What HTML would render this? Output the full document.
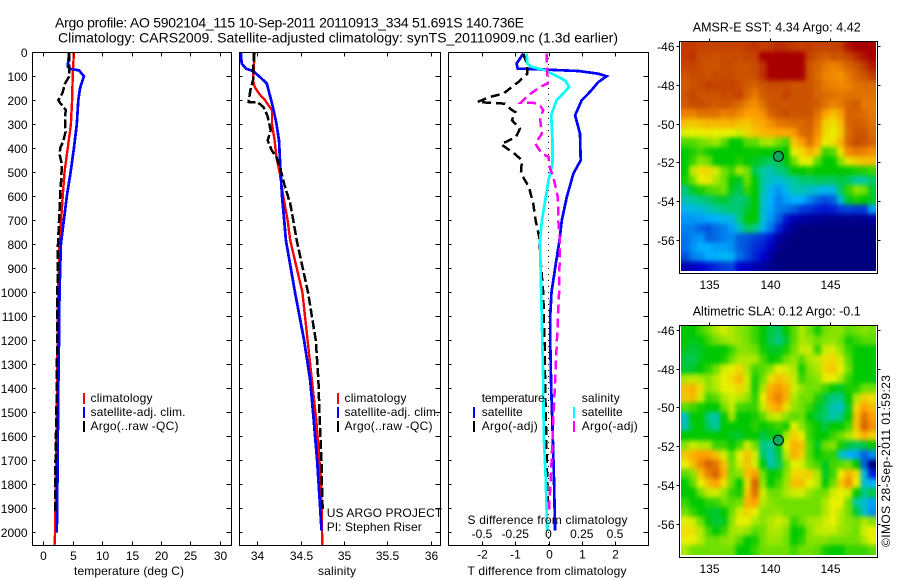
<!DOCTYPE html>
<html lang="en">
<head>
<meta charset="utf-8">
<title>Argo profile 5902104_115</title>
<style>
  html, body { margin: 0; padding: 0; background: #fff; }
  svg { display: block; }
  text { font-family: "Liberation Sans", sans-serif; font-size: 12px; fill: #000; }
  .ttl { font-size: 14px; }
  .map-ttl { font-size: 12.5px; }
</style>
</head>
<body>
<svg id="chart" xmlns="http://www.w3.org/2000/svg" width="900" height="580" viewBox="0 0 900 580">
  <defs>
    <clipPath id="sst-clip"><rect x="681" y="42" width="195" height="229"/></clipPath>
    <clipPath id="sla-clip"><rect x="681" y="326" width="195" height="229"/></clipPath>
    <filter id="soften" filterUnits="userSpaceOnUse" x="660" y="20" width="240" height="560" color-interpolation-filters="sRGB">
      <feGaussianBlur stdDeviation="2 2.4"/>
    </filter>
  </defs>
  <rect x="0" y="0" width="900" height="580" fill="#fff"/>
  <text class="ttl" x="55" y="27.5" textLength="469" lengthAdjust="spacing">Argo profile: AO 5902104_115 10-Sep-2011 20110913_334 51.691S 140.736E</text>
  <text class="ttl" x="58" y="42.5" textLength="560" lengthAdjust="spacing">Climatology: CARS2009. Satellite-adjusted climatology: synTS_20110909.nc (1.3d earlier)</text>
  <g clip-path="url(#sst-clip)"><g id="layer-sst" filter="url(#soften)"></g></g>
  <g clip-path="url(#sla-clip)"><g id="layer-sla" filter="url(#soften)"></g></g>
  <g id="layer-marks"></g>
  <g id="layer-axes"></g>

  <g>
    <rect x="83" y="393" width="2" height="11" fill="#ff0000"/>
    <text x="90.5" y="402" textLength="62">climatology</text>
    <rect x="83" y="407" width="2" height="11" fill="#0000ff"/>
    <text x="90.5" y="416" textLength="95">satellite-adj. clim.</text>
    <rect x="83" y="421" width="2" height="11" fill="#000"/>
    <text x="90.5" y="430" textLength="88">Argo(..raw -QC)</text>
  </g>
  <g>
    <rect x="337" y="393" width="2" height="11" fill="#ff0000"/>
    <text x="344.5" y="402" textLength="62">climatology</text>
    <rect x="337" y="407" width="2" height="11" fill="#0000ff"/>
    <text x="344.5" y="416" textLength="95">satellite-adj. clim.</text>
    <rect x="337" y="421" width="2" height="11" fill="#000"/>
    <text x="344.5" y="430" textLength="88">Argo(..raw -QC)</text>
  </g>
  <text x="326.7" y="517" textLength="115.5">US ARGO PROJECT</text>
  <text x="326.7" y="531" textLength="95">PI: Stephen Riser</text>
  <g>
    <text x="481.7" y="402" textLength="63">temperature</text>
    <rect x="473" y="407" width="2" height="11" fill="#0000ff"/>
    <text x="481.7" y="416" textLength="41">satellite</text>
    <rect x="473" y="421" width="2" height="11" fill="#000"/>
    <text x="481.7" y="430" textLength="56">Argo(-adj)</text>
    <text x="581.7" y="402" textLength="38">salinity</text>
    <rect x="573" y="407" width="2" height="11" fill="#00ffff"/>
    <text x="581.7" y="416" textLength="41">satellite</text>
    <rect x="573" y="421" width="2" height="11" fill="#ff00ff"/>
    <text x="581.7" y="430" textLength="56">Argo(-adj)</text>
  </g>

  <text x="74" y="575" textLength="110">temperature (deg C)</text>
  <text x="318" y="575" textLength="38">salinity</text>
  <text x="467.5" y="575" textLength="159">T difference from climatology</text>
  <text x="467.5" y="524" textLength="160">S difference from climatology</text>

  <text class="map-ttl" x="692.7" y="31.5" textLength="168">AMSR-E SST: 4.34  Argo: 4.42</text>
  <text class="map-ttl" x="692.7" y="315.5" textLength="168">Altimetric SLA: 0.12  Argo: -0.1</text>
  <text transform="translate(890,547) rotate(-90)" x="0" y="0" textLength="172">©IMOS 28-Sep-2011 01:59:23</text>
</svg>

<script>
// ---------- chart data ----------
const depthTicks = [0,100,200,300,400,500,600,700,800,900,1000,1100,1200,1300,1400,1500,1600,1700,1800,1900,2000];
const temperatureTicks = [0,5,10,15,20,25,30];
const salinityTicks = [34,34.5,35,35.5,36];
const salinityTickLabels = ['34','34.5','35','35.5','36'];
const tDiffTicks = [-2,-1,0,1,2];
const sDiffTicks = [-0.5,-0.25,0,0.25,0.5];
const sDiffTickLabels = ['-0.5','-0.25','0','0.25','0.5'];
const mapLonTicks = [135,140,145];
const mapLatTicks = [-46,-48,-50,-52,-54,-56];

const tempClimDepth = [0,100,200,300,400,500,600,800,1000,1400,2000,2054];
const tempClimValues = [5.2,5.0,4.9,4.7,4.15,3.6,3.3,2.75,2.5,2.35,2.0,1.9];
const tempSatDepth = [0,60,70,75,100,150,200,300,400,500,600,800,1000,1200,1400,1800,2000];
const tempSatValues = [4.4,4.15,4.7,6.07,6.9,6.25,5.95,5.7,5.2,4.65,4.0,3.0,2.75,2.67,2.55,2.4,2.3];
const tempArgoDepth = [0,70,100,130,170,200,215,240,300,330,370,400,430,460,500,550,600,800,1000,1400,1700,1920];
const tempArgoValues = [4.37,4.4,4.4,3.7,3.25,2.55,3.0,3.8,3.7,3.8,3.4,2.85,2.8,3.1,3.1,3.0,2.85,2.5,2.4,2.3,2.07,2.0];

const salClimDepth = [0,117,144,172,200,242,300,367,436,505,600,700,783,1000,1200,1367,1533,1783,2054];
const salClimValues = [33.97,33.95,33.97,34.02,34.09,34.17,34.17,34.2,34.22,34.26,34.3,34.35,34.38,34.52,34.58,34.63,34.68,34.735,34.75];
const salSatDepth = [0,47,68,78,103,130,186,228,297,367,436,505,600,700,783,1000,1200,1367,1533,1700,1867,1992];
const salSatValues = [33.81,33.82,33.87,33.95,34.03,34.11,34.15,34.18,34.22,34.25,34.26,34.27,34.285,34.31,34.33,34.435,34.54,34.61,34.65,34.69,34.72,34.74];
const salArgoDepth = [0,117,158,207,210,228,262,325,367,408,436,505,561,630,700,783,1000,1200,1367,1533,1700,1867,1908];
const salArgoValues = [33.96,33.95,33.92,33.9,34.01,34.07,34.115,34.155,34.12,34.165,34.22,34.28,34.32,34.38,34.415,34.455,34.585,34.675,34.705,34.72,34.74,34.75,34.755];

const tDiffSatDepth = [5,47,68,72,78,89,100,124,165,200,262,339,450,505,603,700,783,900,1000,1100,1200,1400,1533,1783,1992];
const tDiffSatValues = [-0.76,-0.96,-0.93,-0.1,0.9,1.5,1.75,1.5,1.25,1.0,0.8,0.95,0.97,0.75,0.55,0.4,0.33,0.2,0.09,0.05,0.05,0.08,0.115,0.165,0.2];
const tDiffArgoDepth = [5,54,89,124,172,186,207,214,235,249,283,318,353,383,425,450,505,561,630,700,769,900,1000,1200,1400,1600,1900];
const tDiffArgoValues = [-0.76,-0.64,-0.64,-0.91,-1.36,-1.76,-2.14,-1.31,-1.16,-1.0,-1.1,-0.86,-0.98,-1.43,-1.0,-0.8,-0.83,-0.59,-0.46,-0.39,-0.28,-0.22,-0.16,-0.12,-0.1,-0.07,-0.02];
const sDiffSatDepth = [5,47,61,75,96,117,144,172,200,262,367,464,533,603,700,783,1000,1367,1600,1783,1992];
const sDiffSatValues = [-0.164,-0.16,-0.126,-0.026,0.05,0.124,0.156,0.11,0.06,0.02,0.03,0.03,0,-0.02,-0.05,-0.064,-0.055,-0.04,-0.035,-0.02,-0.01];
const sDiffArgoDepth = [5,130,144,179,210,211,220,242,276,339,380,422,436,464,519,603,700,783,1000,1367,1533,1742,1908];
const sDiffArgoValues = [-0.014,-0.005,-0.064,-0.15,-0.21,-0.114,-0.064,-0.04,-0.064,-0.05,-0.1,-0.05,0,0,0.036,0.07,0.074,0.086,0.08,0.05,0.036,0.02,0.004];

const floatLon = 140.736;
const floatLat = -51.691;

const sstGrid = [
[9.3,9.3,9.2,9.2,9.2, 9.2,9.2,9.2,9.3,9.4, 9.2,9.3,9.5,9.4,9.3, 9.2,9.3,9.2,9.2,9.2, 9.3,9.8,10,10,10],
[9.3,9.4,9.1,9.1,9, 9.1,9.1,9.1,9.2,9.2, 10,10,10,10,10, 10,9.2,9,8.9,9, 9,9.2,9.5,9.8,10],
[9.2,9.2,9.1,9,9, 9.1,9.1,9,9,9.1, 9.4,10,10,10,10, 10,9,8.8,8.5,8.4, 8.5,8.8,9,9.3,9.7],
[9,9.1,9.1,9,9.1, 9.1,9.1,9,9,9.1, 9.4,10,10,10,10, 10,9,8.7,8.4,8.3, 8.2,8.5,8.8,9,9.3],
[8.9,9,9.1,9.3,9.2, 9.2,9.2,9.1,8.9,8.8, 9,9.1,9.1,9.1,9, 9,9,8.8,8.5,8.4, 8.3,8.4,8.6,8.7,8.7],
[9,9.2,9,9,9, 9.1,9.1,9.2,8.8,8.5, 8.9,9,9,9.2,9, 9,9,8.8,8.7,8.6, 8.5,8.6,8.6,8.6,8.6],
[8.9,9.1,9.1,9,8.9, 9,8.9,8.7,8.4,8.2, 8.6,9,9,9,9, 9,9,8.9,8.6,8.4, 8.5,8.8,8.9,8.5,8.5],
[8.4,8.4,8.6,8.6,8.6, 8.4,8.5,8.3,8,8, 8.2,8.8,9,9.1,9, 9,9,8.6,8,7.6, 8,8.8,8.8,8.7,8.5],
[7.6,7.5,7.6,7.7,7.7, 7.7,7.8,7.6,7.5,7.8, 7.9,8.2,8.5,8.6,8.7, 8.7,8.9,8.4,7.4,7.2, 7.6,8.8,8.9,8.8,8.6],
[6.9,7,7,7.1,7, 7,7,6.8,7.3,7.5, 7.7,7.8,7.9,7.9,8.1, 8.7,8.8,8.2,7.3,7, 7.5,8.7,9,9,8.7],
[5.7,5.7,6,6.2,6.4, 5.8,5,5,5.8,5.8, 6.4,6.5,6,5.6,7.5, 8,8.6,8,7,7.2, 7.8,8.8,9.1,9,8.8],
[5,5.3,5.6,5.2,5, 5,5,5,5,5.1, 5,5,5,5,7, 7.3,7.8,7.4,5.5,5.8, 7.2,8.3,8.5,8.4,8.2],
[5,5.5,6.2,6,5, 5,5,5.3,5,4.8, 4.6,4.4,4.4,5,6, 7,7,5.8,5,5, 6.2,7.2,7.4,7.6,7.6],
[5,6.7,7.2,7.3,6.8, 6,5.5,6.5,6,4.5, 4,3.8,4.2,4.4,5, 5,5.2,5,5,5, 5,5,5.2,5.3,5.5],
[5.2,6,7,7.1,6.5, 6,5,4.8,6,5, 4,3.6,3.4,3.8,4, 4.3,4.3,4.5,4.4,4.4, 4.6,4.4,4,4,4.4],
[4.2,4.8,5.2,5.6,5.8, 6,4.8,4.5,5.5,5, 3.9,3.2,2.7,3.2,3.8, 3.8,3.6,3.4,3.2,3.3, 4.4,5.5,6.2,6,4.7],
[3.8,4,4.2,4.3,4.6, 4.7,4.4,4.2,4.5,5, 3.7,3,2.4,2.8,3, 3,2.5,2,1.8,2, 3.5,4.8,5.2,5,4.8],
[3.2,3.3,3.4,3.7,4, 4.2,4.3,4.3,4.7,5, 3.6,2.9,2.4,2.2,2, 1.6,1.5,1.3,1.2,1.3, 1.6,1.7,1.6,1.6,2.8],
[2.7,2.7,2.8,2.9,3, 3.2,3.3,4.2,5,5, 3.5,2.7,2,1.2,0.7, 0.5,0.4,0.3,0.2,0.2, 0.2,0.2,0.2,0.2,0.4],
[2.4,2.4,2,1.9,2.2, 2.4,2.8,3.6,4.4,4.2, 3.2,2.3,1.4,0.6,0.2, 0,0,0,0,0, 0,0,0,0,0],
[2.2,2.5,2.7,2,2.1, 2.4,2.5,2,1.9,1.7, 1.5,1.2,0.5,0.1,0, 0,0,0,0,0, 0,0,0,0,0],
[2.2,2.6,3,3,2.8, 2.8,2.6,2,1.8,1.5, 1.3,0.8,0.2,0,0, 0,0,0,0,0, 0,0,0,0,0],
[1.8,2.4,2.6,3,3, 3.2,3,2.2,1.8,1.4, 1,0.4,0,0,0, 0,0,0,0,0, 0,0,0,0,0],
[0.5,0.8,1,1.2,1.4, 1.6,1.7,1,0.8,0.6, 0.4,0.2,0,0,0, 0,0,0,0,0, 0,0,0,0,0]
];

const slaGrid = [
[5,5,5.5,6,6.5, 6.8,6.5,6.2,6,5.5, 5,4.6,4.4,5,5.8, 6.5,6,5.2,6,6.2, 6.2,5.8,6,6.2,6],
[5,4.8,5,5.5,6, 6.3,6.5,6.3,6,5.6, 5,4.5,4.2,4.7,5.8, 6.5,6.3,6,6.2,6.3, 6,5.2,5.5,5.8,5.8],
[4.8,4.6,4.8,5,5, 5,5.5,6.2,6.2,6, 5.2,4.8,4.8,5.2,6, 6.7,6.7,5.5,6.8,6.8, 6.3,5.5,5,5,5],
[4.6,4.5,4.8,5,5, 5.2,6,6.5,6.5,6.5, 5.7,5,5.2,6,6.3, 5.8,6.5,6.7,7.2,7.3, 6.8,5.8,5,5,5],
[4.7,4.7,5,5.4,6, 6.8,7,7.3,6.5,5.6, 5.8,6.2,7,6.8,6.5, 5.2,6.2,6.5,7.3,7.5, 7,6,5,5,5],
[6.5,6.7,6.5,6.2,6.6, 7,7.3,7.7,6.8,5.2, 6,7.2,7.6,7.4,6.7, 5.5,6,6.2,7,7, 6.5,5.5,5,5,4.9],
[7.6,7.8,7.2,6.2,6.5, 7,7,7.3,6.7,5.2, 6.5,7.8,8.1,7.8,6.8, 6.3,6,6,5.5,5, 4.8,5.2,5.3,6,6],
[7.5,7.7,6.8,5.6,5.8, 6.5,6.8,6.6,6.3,5.4, 7,8,8.4,7.8,6.5, 6,6,5.3,4.6,4.2, 4.2,5,6.5,7.4,7.2],
[5.8,5.6,5.2,5,5, 6,6.7,5.6,5.5,5.5, 6.7,7.6,8,7.2,6.3, 6,5.5,4.8,4.4,3.8, 3.6,4.8,7.3,8,7.6],
[3.6,5,5,4.2,3.8, 5,6.4,5,5,5.2, 5.8,6.6,6.7,6.2,5.8, 6,5,4.6,4.3,3.9, 4.2,5,7.6,8.6,8],
[3.8,4.8,5,4.4,4, 5,5,5,5,5.4, 5,5.2,5.5,5.2,7, 6.2,5.5,5,4.6,5, 5,5.6,7.6,8.8,8.2],
[5,5,5,5,5, 5,4.8,4.7,5,5, 4.6,4.8,5,6.5,7.4, 7,5.5,5,5,5.5, 6,6.5,7.2,7.8,7.4],
[6.2,6.8,6.5,6.5,5.5, 5.5,5,5.6,6.8,6, 4.2,4,4.8,7,7.8, 7.6,5.8,4.8,6,6.2, 5.2,4.6,4.4,4.6,5],
[7.5,7.8,8,8,7.6, 6.8,5.8,7,7.6,6.8, 4.4,3.8,4.6,6.6,7.8, 7.4,5.8,5,5.4,5.4, 3.8,3,2.8,2,2.6],
[7,7.6,8.3,8.8,8.5, 7.6,6,6.8,7.6,6.8, 5,3.8,4.4,6,7, 6.8,6,5.6,4.8,5.6, 5.8,6,5,2,0],
[5.8,6.2,7.6,8.4,8.8, 7.8,6,6.2,7.6,8, 6,5,5.2,6.2,7.3, 7.3,7.4,6.5,4.8,5.5, 7,7.8,7.2,3.4,1.3],
[5,5.8,7,7.6,8, 7.2,6,5,7.2,8.8, 6.3,5,5.6,6.4,7.6, 7.6,7,6.6,5,6, 7.5,8.2,7,3.6,3],
[5,5,6,6.7,6.8, 6.3,5.5,5.2,7.5,8.6, 6.8,6,6,6.5,6.8, 6.8,6.3,6,6,6.8, 7,6.8,5,4.2,4.6],
[5.5,5,5,5.4,5.5, 6,5.8,6,7.8,8, 6.6,6.2,6,6,6, 6,6,6,6.5,7, 7,6,4,3.5,2.8],
[6,5.5,5,4.8,4.7, 5,6,6.8,7.4,7, 6.2,6.2,6.3,6,6, 6,6,6,6.5,7, 6.6,6,4.6,3.6,2.6],
[7,6.8,6,5,4.6, 4.8,6.2,7,7,6.5, 6.2,6.5,6.8,6.5,5.5, 6,6.4,6.5,6.8,7, 6.5,6.2,6,6.5,6.2],
[7.2,7.2,6.6,5.6,5, 5.5,6.4,6.5,6.3,5.8, 6,6.5,6.5,6.2,5, 5.2,6.2,6.6,6.7,6.7, 6.4,6.2,6,6.8,7],
[7,7,6.6,6,6, 6.2,6.3,5.8,5,5.2, 6,6.4,6.3,6,5, 5.4,6.2,6.2,6.2,6, 6,6,6,6.5,7],
[6.5,6,6,6,6, 6,6,5,5,5.5, 6,6,6,6,5.6, 6,6,5.8,5.2,5, 5,5.5,5.5,5.5,5.8]
];

// ---------- axis functions ----------
const svgNS = 'http://www.w3.org/2000/svg';
const depthY = d => 52.3 + d * 0.24;
const tempX = t => 43.3 + t * 5.88;
const salX = s => 257.3 + (s - 34) * 86.7;
const tDiffX = t => 548.5 + t * 33.2;
const sDiffX = s => 548.5 + s * 133;
const lonX = lon => 709.3 + (lon - 135) * 12.05;
const sstLatY = lat => 46 + (-46 - lat) * 19.4;
const slaLatY = lat => 330 + (-46 - lat) * 19.37;

const gridLonStart = 132.65, gridLonStep = 0.647, gridLatStart = -45.8, gridLatStep = 0.4918;

const colorStops = [[0,0,127],[0,0,208],[0,96,224],[0,176,255],[0,200,160],[0,200,0],[112,224,0],[232,240,0],[255,160,0],[204,84,0],[168,0,0]];
function colorOf(v) {
  const c = Math.max(0, Math.min(10, v));
  const i = Math.min(9, Math.floor(c));
  const f = c - i;
  const a = colorStops[i], b = colorStops[i + 1];
  return 'rgb(' + [0,1,2].map(k => Math.round(a[k] + (b[k] - a[k]) * f)).join(',') + ')';
}

const markLayer = document.getElementById('layer-marks');
const axisLayer = document.getElementById('layer-axes');

function drawLine(depths, values, xScale, color, width, dash, name) {
  const el = document.createElementNS(svgNS, 'polyline');
  
  
  el.setAttribute('points', depths.map((d, i) => xScale(values[i]).toFixed(1) + ',' + depthY(d).toFixed(1)).join(' '));
  el.setAttribute('fill', 'none');
  el.setAttribute('stroke', color);
  el.setAttribute('stroke-width', width);
  if (dash) el.setAttribute('stroke-dasharray', dash);
  el.setAttribute('shape-rendering', 'crispEdges');
  markLayer.appendChild(el);
}

function drawFrame(x0, y0, x1, y1, name) {
  const el = document.createElementNS(svgNS, 'rect');
  
  
  el.setAttribute('x', x0);
  el.setAttribute('y', y0);
  el.setAttribute('width', x1 - x0);
  el.setAttribute('height', y1 - y0);
  el.setAttribute('fill', 'none');
  el.setAttribute('stroke', '#000');
  el.setAttribute('stroke-width', 1);
  el.setAttribute('shape-rendering', 'crispEdges');
  axisLayer.appendChild(el);
}

function drawTick(x0, y0, x1, y1) {
  const el = document.createElementNS(svgNS, 'line');
  
  
  el.setAttribute('x1', x0);
  el.setAttribute('y1', y0);
  el.setAttribute('x2', x1);
  el.setAttribute('y2', y1);
  el.setAttribute('stroke', '#000');
  el.setAttribute('stroke-width', 1);
  el.setAttribute('shape-rendering', 'crispEdges');
  axisLayer.appendChild(el);
}

function drawLabel(x, y, str, anchor) {
  const el = document.createElementNS(svgNS, 'text');
  
  
  el.setAttribute('x', x);
  el.setAttribute('y', y);
  el.setAttribute('text-anchor', anchor);
  el.textContent = str;
  axisLayer.appendChild(el);
}

function drawHeat(grid, latY, parent, name) {
  const lastRow = grid.length - 1;
  grid.forEach((row, r) => {
    const lastCol = row.length - 1;
    row.forEach((v, c) => {
      const lon = gridLonStart + c * gridLonStep;
      const lat = gridLatStart - r * gridLatStep;
      // outer cells run past the clip so the softening keeps full colour at the image edge
      const x0 = lonX(lon) - (c === 0 ? 8 : 0);
      const x1 = lonX(lon + gridLonStep) + (c === lastCol ? 8 : 0);
      const y0 = latY(lat) - (r === 0 ? 8 : 0);
      const y1 = latY(lat - gridLatStep) + (r === lastRow ? 8 : 0);
      const el = document.createElementNS(svgNS, 'rect');
      
      
      el.setAttribute('x', x0.toFixed(2));
      el.setAttribute('y', y0.toFixed(2));
      el.setAttribute('width', (x1 - x0 + 0.4).toFixed(2));
      el.setAttribute('height', (y1 - y0 + 0.4).toFixed(2));
      el.setAttribute('fill', colorOf(v));
      el.setAttribute('shape-rendering', 'crispEdges');
      parent.appendChild(el);
    });
  });
}

// ---------- heatmaps ----------
drawHeat(sstGrid, sstLatY, document.getElementById('layer-sst'), 'sst-cell');
drawHeat(slaGrid, slaLatY, document.getElementById('layer-sla'), 'sla-cell');

// ---------- profile series ----------
drawLine(tempClimDepth, tempClimValues, tempX, '#ff0000', 2.4, null, 'temperature-climatology-line');
drawLine(tempSatDepth, tempSatValues, tempX, '#0000ff', 2.7, null, 'temperature-satellite-line');
drawLine(tempArgoDepth, tempArgoValues, tempX, '#000', 2.5, '9 3', 'temperature-argo-line');

drawLine(salClimDepth, salClimValues, salX, '#ff0000', 2.4, null, 'salinity-climatology-line');
drawLine(salSatDepth, salSatValues, salX, '#0000ff', 2.7, null, 'salinity-satellite-line');
drawLine(salArgoDepth, salArgoValues, salX, '#000', 2.5, '9 3', 'salinity-argo-line');

const zeroLine = document.createElementNS(svgNS, 'line');


zeroLine.setAttribute('x1', tDiffX(0));
zeroLine.setAttribute('x2', tDiffX(0));
zeroLine.setAttribute('y1', 52);
zeroLine.setAttribute('y2', 545);
zeroLine.setAttribute('stroke', '#000');
zeroLine.setAttribute('stroke-width', 1);
zeroLine.setAttribute('stroke-dasharray', '1 5');
zeroLine.setAttribute('shape-rendering', 'crispEdges');
markLayer.appendChild(zeroLine);

drawLine(tDiffSatDepth, tDiffSatValues, tDiffX, '#0000ff', 2.7, null, 't-difference-satellite-line');
drawLine(tDiffArgoDepth, tDiffArgoValues, tDiffX, '#000', 2.5, '9 5', 't-difference-argo-line');
drawLine(sDiffSatDepth, sDiffSatValues, sDiffX, '#00ffff', 2.7, null, 's-difference-satellite-line');
drawLine(sDiffArgoDepth, sDiffArgoValues, sDiffX, '#ff00ff', 2.5, '9 5', 's-difference-argo-line');

// ---------- axes ----------
drawFrame(32.5, 52.5, 231.5, 545.5, 'temperature-plot-frame');
drawFrame(239.5, 52.5, 440.5, 545.5, 'salinity-plot-frame');
drawFrame(448.5, 52.5, 648.5, 545.5, 'difference-plot-frame');
drawFrame(679.5, 41.5, 877.5, 273.5, 'sst-map-frame');
drawFrame(679.5, 325.5, 877.5, 557.5, 'sla-map-frame');

const panelEdges = [[32.5,231.5],[239.5,440.5],[448.5,648.5]];
panelEdges.forEach((edge, p) => {
  depthTicks.forEach(d => {
    const y = Math.round(depthY(d)) + 0.5;
    drawTick(edge[0], y, edge[0] + 3, y);
    drawTick(edge[1] - 5, y, edge[1], y);
    if (p === 0) drawLabel(27.5, y + 4.5, String(d), 'end');
  });
});
temperatureTicks.forEach(t => {
  const x = Math.round(tempX(t)) + 0.5;
  drawTick(x, 52.5, x, 56.5);
  drawTick(x, 541.5, x, 545.5);
  drawLabel(x, 560, String(t), 'middle');
});
salinityTicks.forEach((s, i) => {
  const x = Math.round(salX(s)) + 0.5;
  drawTick(x, 52.5, x, 56.5);
  drawTick(x, 541.5, x, 545.5);
  drawLabel(x, 560, salinityTickLabels[i], 'middle');
});
tDiffTicks.forEach(t => {
  const x = Math.round(tDiffX(t)) + 0.5;
  drawTick(x, 52.5, x, 56.5);
  drawTick(x, 541.5, x, 545.5);
  drawLabel(x, 558.5, String(t), 'middle');
});
sDiffTicks.forEach((s, i) => {
  drawLabel(sDiffX(s), 538, sDiffTickLabels[i], 'middle');
});

function drawMapAxes(latY, topY, labelY) {
  mapLonTicks.forEach(lon => {
    const x = Math.round(lonX(lon)) + 0.5;
    drawTick(x, topY - 3, x, topY);
    drawLabel(x, labelY, String(lon), 'middle');
  });
  mapLatTicks.forEach(lat => {
    const y = Math.round(latY(lat)) + 0.5;
    drawTick(676.5, y, 679.5, y);
    drawTick(877.5, y, 880.5, y);
    drawLabel(674.5, y + 4.5, String(lat), 'end');
  });
}
drawMapAxes(sstLatY, 41.5, 289);
drawMapAxes(slaLatY, 325.5, 573);

// ---------- float position markers ----------
const sstMarker = document.createElementNS(svgNS, 'circle');


sstMarker.setAttribute('cx', lonX(floatLon));
sstMarker.setAttribute('cy', sstLatY(floatLat));
sstMarker.setAttribute('r', 5);
sstMarker.setAttribute('fill', '#10a860');
sstMarker.setAttribute('stroke', '#000');
sstMarker.setAttribute('stroke-width', 1);
axisLayer.appendChild(sstMarker);

const slaMarker = document.createElementNS(svgNS, 'circle');


slaMarker.setAttribute('cx', lonX(floatLon));
slaMarker.setAttribute('cy', slaLatY(floatLat));
slaMarker.setAttribute('r', 5);
slaMarker.setAttribute('fill', '#10a860');
slaMarker.setAttribute('stroke', '#000');
slaMarker.setAttribute('stroke-width', 1);
axisLayer.appendChild(slaMarker);
</script>
</body>
</html>
